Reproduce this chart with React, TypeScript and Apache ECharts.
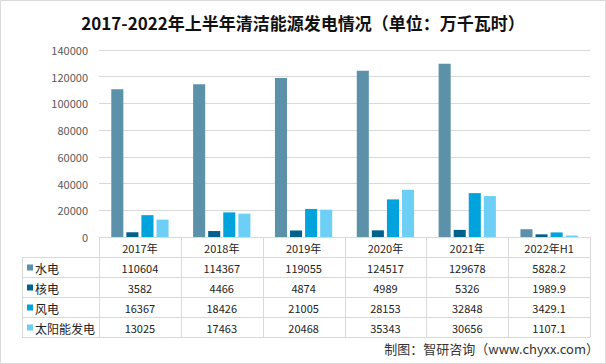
import React, { useEffect, useRef } from "react";
import * as echarts from "echarts";

const categories = ["2017年", "2018年", "2019年", "2020年", "2021年", "2022年H1"];
const seriesNames = ["水电", "核电", "风电", "太阳能发电"];
const hydro = [110604, 114367, 119055, 124517, 129678, 5828.2];
const nuclear = [3582, 4466, 4874, 4989, 5326, 1989.9];
const wind = [16367, 18426, 21005, 28153, 32848, 3429.1];
const solar = [13025, 17463, 20468, 35343, 30656, 1107.1];
const colors = ["#5B91A9", "#00628A", "#00A3DC", "#6DCFF6"];
const yTicks = [0, 20000, 40000, 60000, 80000, 100000, 120000, 140000];
const titleText = "2017-2022年上半年清洁能源发电情况（单位：万千瓦时）";
const sourceText = "制图：智研咨询（www.chyxx.com）";

const W = 606;
const H = 364;
const GRID_L = 99;
const GRID_R = 590;
const GRID_T = 50;
const GRID_B = 237;
const ROW_H = 20;
const TABLE_L = 22;
const LINE = "#D9D9D9";
const FONT = "'Noto Sans CJK SC', 'Noto Sans', sans-serif";

export default function App() {
  const ref = useRef<HTMLDivElement>(null);
  useEffect(() => {
    if (!ref.current) return;
    const chart = echarts.init(ref.current, null, { renderer: "svg" });
    const allSeries = [hydro, nuclear, wind, solar];
    const colW = (GRID_R - GRID_L) / categories.length;
    const tableBottom = GRID_B + ROW_H * (seriesNames.length + 1);
    const g: any[] = [];
    g.push({
      type: "rect",
      shape: { x: 0.5, y: 0.5, width: W - 1, height: H - 1 },
      style: { fill: "none", stroke: LINE, lineWidth: 1 },
      silent: true,
    });
    for (let r = 1; r <= seriesNames.length + 1; r++) {
      const y = GRID_B + r * ROW_H + 0.5;
      g.push({
        type: "line",
        shape: { x1: TABLE_L, y1: y, x2: GRID_R, y2: y },
        style: { stroke: LINE, lineWidth: 1 },
      });
    }
    g.push({
      type: "line",
      shape: { x1: TABLE_L + 0.5, y1: GRID_B + ROW_H, x2: TABLE_L + 0.5, y2: tableBottom + 0.5 },
      style: { stroke: LINE, lineWidth: 1 },
    });
    for (let c = 0; c <= categories.length; c++) {
      const x = Math.round(GRID_L + c * colW) + 0.5;
      g.push({
        type: "line",
        shape: { x1: x, y1: GRID_B, x2: x, y2: tableBottom + 0.5 },
        style: { stroke: LINE, lineWidth: 1 },
      });
    }
    categories.forEach((cat, c) => {
      g.push({
        type: "text",
        x: GRID_L + (c + 0.5) * colW,
        y: GRID_B + ROW_H / 2 + 1,
        style: {
          text: cat,
          fill: "#222",
          font: `11px ${FONT}`,
          align: "center",
          verticalAlign: "middle",
        },
      });
    });
    seriesNames.forEach((name, r) => {
      const cy = GRID_B + (r + 1.5) * ROW_H + 1;
      g.push({
        type: "rect",
        shape: { x: 27, y: cy - 3.5, width: 6, height: 6 },
        style: { fill: colors[r] },
      });
      g.push({
        type: "text",
        x: 35,
        y: cy,
        style: {
          text: name,
          fill: "#222",
          font: `12px ${FONT}`,
          align: "left",
          verticalAlign: "middle",
        },
      });
      allSeries[r].forEach((v, c) => {
        g.push({
          type: "text",
          x: GRID_L + (c + 0.5) * colW,
          y: cy,
          style: {
            text: String(v),
            fill: "#222",
            font: `11px ${FONT}`,
            align: "center",
            verticalAlign: "middle",
          },
        });
      });
    });
    g.push({
      type: "text",
      right: 7,
      top: 342,
      style: {
        text: sourceText,
        fill: "#333",
        font: `13px ${FONT}`,
      },
    });

    chart.setOption({
      animation: false,
      backgroundColor: "#fff",
      title: {
        text: titleText,
        left: "center",
        top: 9,
        textStyle: { fontFamily: FONT, fontWeight: "bold", fontSize: 17, color: "#111" },
      },
      grid: { left: GRID_L, right: W - GRID_R, top: GRID_T, bottom: H - GRID_B, containLabel: false },
      xAxis: {
        type: "category",
        data: categories,
        axisLine: { show: true, lineStyle: { color: LINE } },
        axisTick: { show: false },
        axisLabel: { show: false },
      },
      yAxis: {
        type: "value",
        min: yTicks[0],
        max: yTicks[yTicks.length - 1],
        interval: 20000,
        axisLine: { show: false },
        axisTick: { show: false },
        splitLine: { lineStyle: { color: LINE, width: 1 } },
        axisLabel: {
          color: "#595959",
          fontSize: 11,
          fontFamily: FONT,
          margin: 11,
          formatter: (v: number) => String(v),
        },
      },
      series: seriesNames.map((name, i) => ({
        name,
        type: "bar",
        data: allSeries[i],
        itemStyle: { color: colors[i] },
        barGap: "25%",
        barCategoryGap: "30%",
      })),
      graphic: g,
    });
    return () => chart.dispose();
  }, []);
  return (
    <div
      ref={ref}
      style={{ position: "fixed", left: 0, top: 0, width: W, height: H }}
    />
  );
}
